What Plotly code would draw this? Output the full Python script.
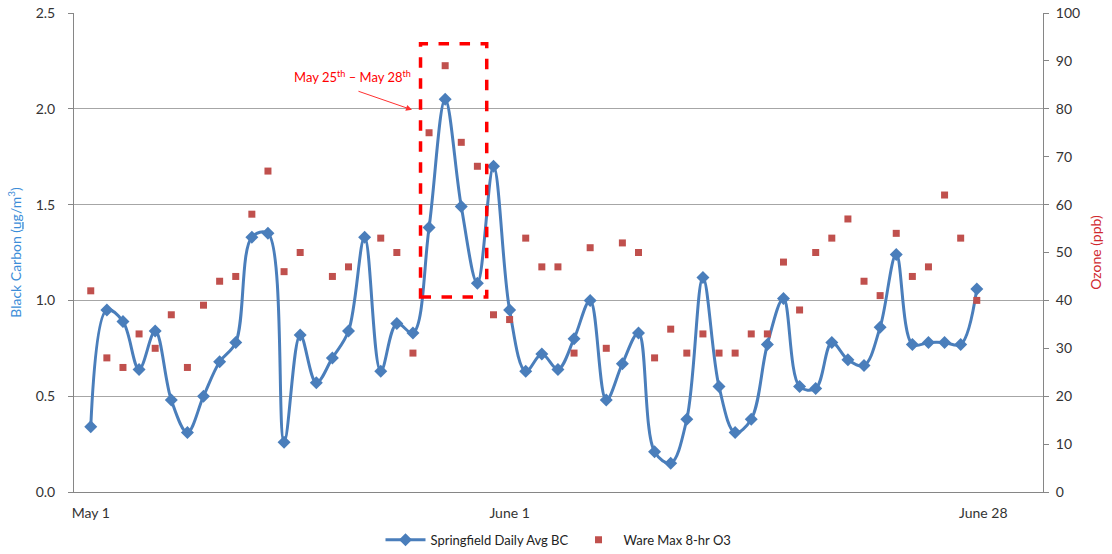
import plotly.graph_objects as go

# day index (category position on the x axis)
days = list(range(56))

# Springfield daily average black carbon (ug/m3)
bc = [0.34, 0.95, 0.89, 0.64, 0.84, 0.48, 0.31, 0.50, 0.68, 0.78,
      1.33, 1.35, 0.26, 0.82, 0.57, 0.70, 0.84, 1.33, 0.63, 0.88,
      0.83, 1.38, 2.05, 1.49, 1.09, 1.70, 0.95, 0.63, 0.72, 0.64,
      0.80, 1.00, 0.48, 0.67, 0.83, 0.21, 0.15, 0.38, 1.12, 0.55,
      0.31, 0.38, 0.77, 1.01, 0.55, 0.54, 0.78, 0.69, 0.66, 0.86,
      1.24, 0.77, 0.78, 0.78, 0.77, 1.06]

# Ware max 8-hr ozone (ppb)
o3 = [42, 28, 26, 33, 30, 37, 26, 39, 44, 45,
      58, 67, 46, 50, None, 45, 47, None, 53, 50,
      29, 75, 89, 73, 68, 37, 36, 53, 47, 47,
      29, 51, 30, 52, 50, 28, 34, 29, 33, 29,
      29, 33, 33, 48, 38, 50, 53, 57, 44, 41,
      54, 45, 47, 62, 53, 40]

tick_pos = [0, 26, 55.4]
tick_text = ["May 1", "June 1", "June 28"]

blue = "#4A7EBB"
red = "#C0504D"
grid = "#A6A6A6"
font = "Lato"

fig = go.Figure()

fig.add_trace(go.Scatter(
    x=days, y=bc, name="Springfield Daily Avg BC",
    mode="lines+markers", line=dict(color=blue, width=3, shape="spline", smoothing=1),
    marker=dict(symbol="diamond", size=10, color=blue),
))
fig.add_trace(go.Scatter(
    x=days, y=o3, name="Ware Max 8-hr O3", yaxis="y2",
    mode="markers", marker=dict(symbol="square", size=7, color=red),
))

# highlighted period
fig.add_shape(type="rect", x0=20.47, x1=24.58, y0=1.018, y1=2.339,
              line=dict(color="#FF0000", width=3.5, dash="dash"))
fig.add_annotation(x=16.22, y=2.167, text="May 25<sup>th</sup> – May 28<sup>th</sup>",
                   showarrow=False, font=dict(color="#FF0000", size=13, family=font))
fig.add_annotation(x=19.94, y=1.995, ax=-55, ay=-19, text="", showarrow=True,
                   arrowhead=2, arrowsize=1.2, arrowwidth=1, arrowcolor="#FF3030")

fig.update_layout(
    width=1112, height=554,
    margin=dict(l=74, r=69, t=13, b=62, autoexpand=False),
    plot_bgcolor="white", paper_bgcolor="white",
    font=dict(family=font, size=14, color="#333333"),
    showlegend=True,
    legend=dict(orientation="h", x=0.5, xanchor="center", y=-0.1, yanchor="middle",
                font=dict(size=13, color="#222222"), itemwidth=40),
    xaxis=dict(range=[-1.04, 59.11], tickvals=tick_pos, ticktext=tick_text,
               showgrid=False, zeroline=False, showline=True, linecolor="#868686",
               ticks="outside", ticklen=8, tickcolor="rgba(0,0,0,0)",
               tickfont=dict(size=14), automargin=False),
    yaxis=dict(range=[0, 2.5], dtick=0.5, tickformat=".1f", showgrid=True,
               gridcolor=grid, zeroline=False, showline=True, linecolor="#868686",
               ticks="outside", ticklen=5, tickcolor="#868686", automargin=False,
               ticklabelstandoff=10,
               title=dict(text="Black Carbon (<u>ug</u>/m<sup>3</sup>)",
                          font=dict(color="#3C8DD8", size=14), standoff=10)),
    yaxis2=dict(range=[0, 100], dtick=10, overlaying="y", side="right",
                showgrid=False, zeroline=False, showline=True, linecolor="#868686",
                ticks="outside", ticklen=5, tickcolor="#868686", automargin=False,
                ticklabelstandoff=4,
                title=dict(text="Ozone (ppb)", font=dict(color="#D0282E", size=14), standoff=12)),
)

# drop the default 8px page margin so the figure sits flush in the window
fig.write_html("out.html", config={"displayModeBar": False},
               post_script="document.body.style.margin='0px';")
